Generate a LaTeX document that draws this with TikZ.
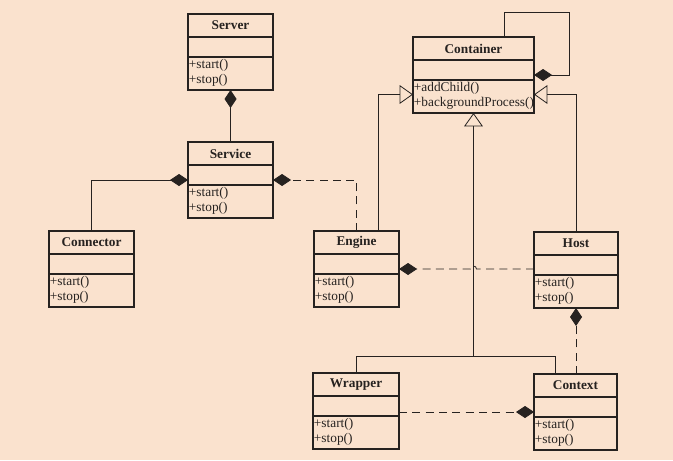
\documentclass[tikz,border=0pt]{standalone}
\usepackage{fontspec}
\setmainfont{Liberation Serif}
\usetikzlibrary{arrows.meta, calc, positioning}
\definecolor{bgpeach}{RGB}{250,226,206}
\definecolor{inkgray}{RGB}{38,34,32}

\tikzset{
  classbox/.style={draw=inkgray, line width=0.8pt, inner sep=0pt, outer sep=0pt,
    minimum height=57pt, anchor=north west},
  conn/.style={draw=inkgray, line width=0.6pt},
  comp/.style={conn, -{Diamond[length=13.5pt, width=9pt]}},
  gen/.style={conn, -{Triangle[open, length=10pt, width=14pt]}},
  dashline/.style={dash pattern=on 6pt off 4pt},
}

% class box: [width] name, top-left corner, title, operations
\newcommand{\umlclass}[5][85]{%
  \node[classbox, minimum width=#1*0.75pt] (#2) at #3 {};
  \draw[inkgray, line width=0.8pt] ($(#2.north west)+(0,23)$) -- ($(#2.north east)+(0,23)$)
    ($(#2.north west)+(0,43)$) -- ($(#2.north east)+(0,43)$);
  \node[font=\bfseries, text=inkgray] (#2-name) at ($(#2.north)+(0,11.5)$) {#4};
  \node[anchor=north west, align=left, inner xsep=0.5pt, inner ysep=1.8pt, text=inkgray]
    (#2-ops) at ($(#2.north west)+(0,43)$) {#5};
}

\begin{document}
\begin{tikzpicture}[x=0.75pt, y=-0.75pt, font=\fontsize{10}{11.3}\selectfont]
    % Fond
    \fill[bgpeach] (0,0) rectangle (673,460);
    \useasboundingbox (0,0) rectangle (673,460);

    % Classes
    \umlclass{server}{(188,14)}{Server}{+start()\\+stop()}
    \umlclass{service}{(188,142)}{Service}{+start()\\+stop()}
    \umlclass{connector}{(49,231)}{Connector}{+start()\\+stop()}
    \umlclass{engine}{(314,231)}{Engine}{+start()\\+stop()}
    \umlclass[84]{host}{(534,232)}{Host}{+start()\\+stop()}
    \umlclass[86]{wrapper}{(313,373)}{Wrapper}{+start()\\+stop()}
    \umlclass[83]{context}{(534,374)}{Context}{+start()\\+stop()}
    \umlclass[121]{container}{(413,37)}{Container}{+addChild()\\+backgroundProcess()}

    % Compositions
    \draw[comp] (service.north) -- (server.south);
    \draw[comp] (connector.north) |- (service.west);
    \draw[comp, dashline] (engine.north) |- (service.east);

    % Generalisations vers Container
    \draw[gen] ($(engine.north)+(21.5,0)$) |- ($(container.west)+(0,19.5)$);
    \draw[gen] (host.north) |- ($(container.east)+(0,19.5)$);
    \coordinate (bus) at ($(wrapper.north)+(0,-17)$);
    \draw[conn] (wrapper.north) -- (bus) -| ($(context.north)+(-20.5,0)$);
    \draw[gen] (container.south |- bus) -- (container.south);

    % Container contient des Container
    \draw[comp] ($(container.north)+(30.5,0)$) -- ++(0,-25) -| ($(container.east)+(35,0)$) -- (container.east);

    % Engine -- Host, avec saut
    \draw[comp, dashline] (host.west |- engine.east) -- ($(container.south |- engine.east)+(3,0)$)
        arc[start angle=0, end angle=-180, radius=3] -- (engine.east);

    % Host -- Context, Context -- Wrapper
    \draw[comp, dashline] (host.south |- context.north) -- (host.south);
    \draw[comp, dashline] (wrapper.east |- context.west) -- (context.west);
\end{tikzpicture}
\end{document}
